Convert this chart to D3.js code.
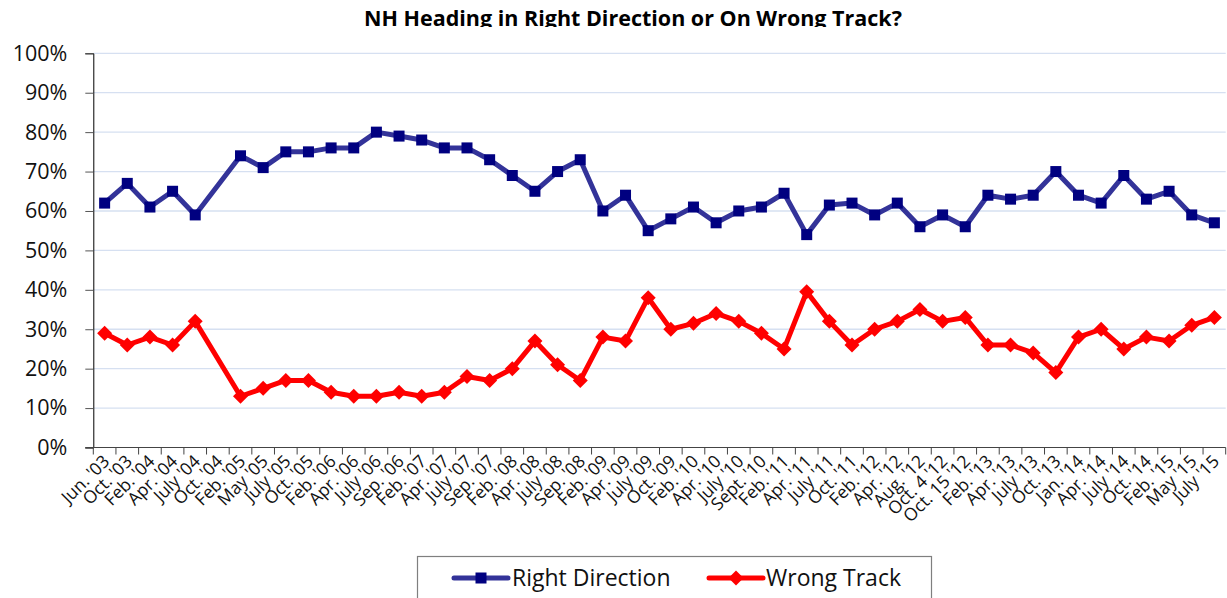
<!DOCTYPE html>
<html>
<head>
<meta charset="utf-8">
<script src="https://cdn.jsdelivr.net/npm/d3@7"></script>
<style>
  body { margin: 0; background: #fff; }
  svg { display: block; font-family: "Open Sans", sans-serif; }
</style>
</head>
<body>
<svg id="chart" width="1227" height="598"></svg>
<script>
// Survey dates (x categories)
const months = ["Jun. '03", "Oct. '03", "Feb. '04", "Apr. '04", "July '04", "Oct. '04",
  "Feb. '05", "May '05", "July '05", "Oct. '05", "Feb. '06", "Apr. '06", "July '06", "Sep. '06",
  "Feb. '07", "Apr. '07", "July '07", "Sep. '07", "Feb. '08", "Apr. '08", "July '08", "Sep. '08",
  "Feb. '09", "Apr. '09", "July '09", "Oct. '09", "Feb. '10", "Apr. '10", "July '10", "Sept. '10",
  "Feb. '11", "Apr. '11", "July '11", "Oct. '11", "Feb. '12", "Apr. '12", "Aug. '12", "Oct. 4 '12",
  "Oct. 15 '12", "Feb. '13", "Apr. '13", "July '13", "Oct. '13", "Jan. '14", "Apr. '14", "July '14",
  "Oct. '14", "Feb. '15", "May '15", "July '15"]

// Percent values, null = no poll that month
const rightDirection = [62, 67, 61, 65, 59, null, 74, 71, 75, 75, 76, 76, 80, 79, 78, 76, 76, 73,
  69, 65, 70, 73, 60, 64, 55, 58, 61, 57, 60, 61, 64.5, 54, 61.5, 62, 59, 62, 56, 59, 56, 64,
  63, 64, 70, 64, 62, 69, 63, 65, 59, 57]
const wrongTrack = [29, 26, 28, 26, 32, null, 13, 15, 17, 17, 14, 13, 13, 14, 13, 14, 18, 17,
  20, 27, 21, 17, 28, 27, 38, 30, 31.5, 34, 32, 29, 25, 39.5, 32, 26, 30, 32, 35, 32, 33, 26,
  26, 24, 19, 28, 30, 25, 28, 27, 31, 33]

const yTicks = [0, 10, 20, 30, 40, 50, 60, 70, 80, 90, 100]

const svg = d3.select("#chart")
const plotLeft = 93.3, plotRight = 1225.7, plotTop = 53.3, plotBottom = 447.5

const x = d3.scaleBand().domain(months).range([plotLeft, plotRight])
const y = d3.scaleLinear().domain([0, 100]).range([plotBottom, plotTop])

// Title, clipped at the bottom like the original image
svg.append("clipPath").attr("id", "titleClip")
  .append("rect").attr("x", 0).attr("y", 0).attr("width", 1227).attr("height", 27)
svg.append("text")
  .attr("clip-path", "url(#titleClip)")
  .attr("x", 633).attr("y", 26)
  .attr("text-anchor", "middle")
  .style("font-weight", "bold").style("font-size", "21.5px")
  .text("NH Heading in Right Direction or On Wrong Track?")

// gridlines
svg.append("g")
  .selectAll("line")
  .data(yTicks.slice(1))
  .enter().append("line")
  .attr("x1", plotLeft).attr("x2", plotRight)
  .attr("y1", d => y(d)).attr("y2", d => y(d))
  .attr("stroke", "#d6e0f1").attr("stroke-width", 1.3)

// y axis
const yAxis = svg.append("g")
  .attr("transform", "translate(" + plotLeft + ",0)")
  .call(d3.axisLeft(y).tickValues(yTicks).tickSize(8).tickPadding(18)
    .tickFormat(d => d + "%"))
yAxis.select(".domain").attr("stroke", "#000")
yAxis.selectAll(".tick line").attr("stroke", "#555")
yAxis.selectAll("text").style("font-size", "21.5px").style("font-family", "Open Sans").attr("fill", "#111")

// x axis: ticks sit between categories
const xAxis = svg.append("g").attr("transform", "translate(0," + plotBottom + ")")
xAxis.append("line").attr("x1", plotLeft - 8).attr("x2", plotRight).attr("stroke", "#444").attr("stroke-width", 1.2)
xAxis.selectAll(".xt")
  .data(months)
  .enter().append("line")
  .attr("class", "xt")
  .attr("x1", d => x(d)).attr("x2", d => x(d))
  .attr("y1", 0).attr("y2", 7)
  .attr("stroke", "#444")
xAxis.append("line").attr("x1", plotRight).attr("x2", plotRight).attr("y1", 0).attr("y2", 7).attr("stroke", "#444")
xAxis.selectAll(".xl")
  .data(months)
  .enter().append("text")
  .attr("class", "xl")
  .attr("text-anchor", "end")
  .attr("transform", d => "translate(" + (x(d) + x.bandwidth() / 2 + 6) + ",15) rotate(-45)")
  .style("font-size", "17.5px").attr("fill", "#111")
  .text(d => d)

function points(values) {
  return values.map((v, i) => ({ m: months[i], v: v })).filter(d => d.v !== null)
}
const cx = d => x(d.m) + x.bandwidth() / 2

const line = d3.line().x(cx).y(d => y(d.v))

// Right Direction
const rd = points(rightDirection)
svg.append("path").datum(rd).attr("d", line)
  .attr("fill", "none").attr("stroke", "#333399").attr("stroke-width", 5).attr("stroke-linejoin", "round")
svg.selectAll(".sq").data(rd).enter().append("rect")
  .attr("x", d => cx(d) - 5.5).attr("y", d => y(d.v) - 5.5)
  .attr("width", 11).attr("height", 11).attr("fill", "#000080")

// Wrong Track
const wt = points(wrongTrack)
svg.append("path").datum(wt).attr("d", line)
  .attr("fill", "none").attr("stroke", "#ff0000").attr("stroke-width", 5).attr("stroke-linejoin", "round")
svg.selectAll(".dm").data(wt).enter().append("path")
  .attr("d", d => { const a = cx(d), b = y(d.v), r = 7.5
    return "M" + a + "," + (b - r) + "L" + (a + r) + "," + b + "L" + a + "," + (b + r) + "L" + (a - r) + "," + b + "Z" })
  .attr("fill", "#ff0000")

// legend
const legend = svg.append("g")
legend.append("rect").attr("x", 417.5).attr("y", 556.5).attr("width", 514).attr("height", 60)
  .attr("fill", "#fff").attr("stroke", "#7f7f7f").attr("stroke-width", 1.2)
legend.append("line").attr("x1", 454).attr("x2", 508).attr("y1", 578).attr("y2", 578)
  .attr("stroke", "#333399").attr("stroke-width", 5).attr("stroke-linecap", "round")
legend.append("rect").attr("x", 475.5).attr("y", 572.5).attr("width", 11).attr("height", 11).attr("fill", "#000080")
legend.append("text").attr("x", 512).attr("y", 586).style("font-size", "23px").attr("fill", "#111").text("Right Direction")
legend.append("line").attr("x1", 709).attr("x2", 763).attr("y1", 578).attr("y2", 578)
  .attr("stroke", "#ff0000").attr("stroke-width", 5).attr("stroke-linecap", "round")
legend.append("path").attr("d", "M736,570.5L743.5,578L736,585.5L728.5,578Z").attr("fill", "#ff0000")
legend.append("text").attr("x", 766).attr("y", 586).style("font-size", "23px").attr("fill", "#111").text("Wrong Track")
</script>
</body>
</html>
